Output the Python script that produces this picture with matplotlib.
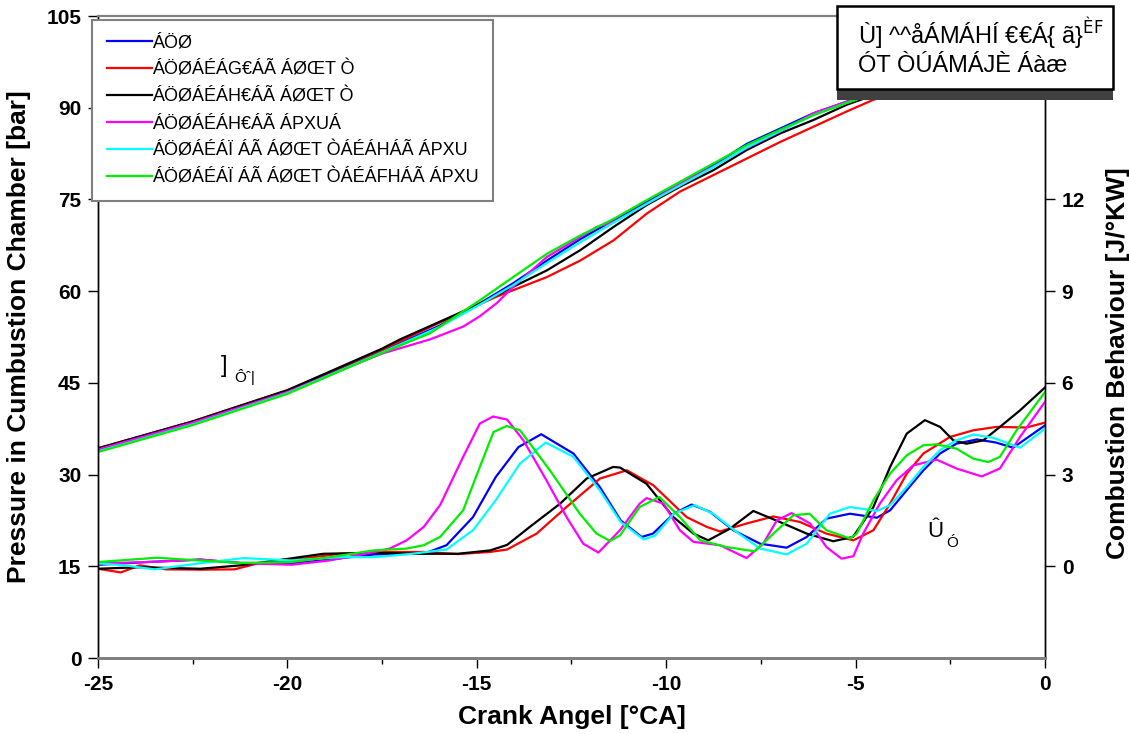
import matplotlib
matplotlib.use("Agg")
import matplotlib.pyplot as plt
from matplotlib.patches import Rectangle
from matplotlib.ticker import MultipleLocator

plt.rcParams['font.family'] = ['Liberation Sans', 'DejaVu Sans']
plt.rcParams['axes.unicode_minus'] = False

# series labels and colours
labels = ["ÁÖØ",
          "ÁÖØÁÉÁG€ÁÃ ÁØŒT Ò",
          "ÁÖØÁÉÁH€ÁÃ ÁØŒT Ò",
          "ÁÖØÁÉÁH€ÁÃ ÁPXUÁ",
          "ÁÖØÁÉÁÏ ÁÃ ÁØŒT ÒÁÉÁHÁÃ ÁPXU",
          "ÁÖØÁÉÁÏ ÁÃ ÁØŒT ÒÁÉÁFHÁÃ ÁPXU"]
colors = ['#0000ff', '#ff0000', '#000000', '#ff00ff', '#00ffff', '#00ee00']

# cylinder pressure [bar] vs crank angle
p_blue_x = [-25, -22.5, -20, -17.5, -16, -14.92, -14.04, -13.15, -12.27, -11.39, -10.51, -9.63, -8.75, -7.87, -6.99, -6.11, -5.23, -4, -2, 0]
p_blue_y = [34.0, 38.4, 43.5, 50.2, 54.3, 58.0, 61.3, 65.0, 68.5, 71.6, 74.6, 77.6, 80.6, 84.1, 86.6, 89.1, 91.0, 93.5, 96.8, 99.0]
p_red_x = [-25, -22.5, -20, -17.5, -16, -14.48, -13.15, -12.27, -11.39, -10.51, -9.63, -8.75, -7.87, -6.99, -6.11, -5.23, -4.53, -3, -1.5, 0]
p_red_y = [34.3, 38.7, 43.8, 50.4, 54.8, 59.1, 62.3, 65.0, 68.3, 72.7, 76.3, 79.0, 81.7, 84.4, 86.9, 89.4, 91.3, 94.0, 96.0, 97.5]
p_black_x = [-25, -22.5, -20, -17.5, -17.03, -15.18, -14.04, -13.15, -12.27, -11.39, -10.51, -9.63, -8.75, -7.87, -6.99, -6.11, -5.23, -4, -2, 0]
p_black_y = [34.3, 38.7, 43.8, 50.6, 52.1, 57.2, 60.7, 63.4, 66.7, 70.5, 74.1, 77.1, 79.8, 83.1, 85.8, 88.0, 90.5, 93.2, 96.5, 98.5]
p_mag_x = [-25, -22.5, -20, -17.5, -16.24, -15.36, -14.92, -14.48, -14.04, -13.15, -12.71, -11.83, -11.39, -10.51, -9.63, -8.75, -7.87, -6.99, -6.11, -5.23, -4, -2, 0]
p_mag_y = [34.1, 38.5, 43.5, 49.8, 52.1, 54.2, 55.9, 58.0, 60.7, 65.6, 67.2, 70.5, 71.3, 74.3, 77.6, 80.4, 83.4, 86.1, 89.1, 91.0, 93.5, 96.8, 99.0]
p_cyan_x = [-25, -22.5, -20, -17.5, -16, -14.92, -14.04, -13.15, -12.27, -11.39, -10.51, -9.63, -8.75, -7.87, -6.99, -6.11, -5.23, -4, -2, 0]
p_cyan_y = [33.8, 38.2, 43.3, 50.0, 54.1, 57.8, 61.0, 64.6, 68.0, 71.2, 74.3, 77.3, 80.3, 83.5, 86.2, 88.8, 90.8, 93.4, 96.7, 99.0]
p_green_x = [-25, -22.5, -20, -17.5, -16.24, -14.92, -14.04, -13.15, -12.27, -11.39, -10.51, -9.63, -8.75, -7.87, -6.99, -6.11, -5.23, -4, -2, 0]
p_green_y = [33.7, 38.1, 43.2, 49.9, 53.1, 58.5, 62.3, 66.1, 69.1, 71.8, 74.9, 77.9, 80.9, 83.9, 86.4, 88.8, 90.8, 93.5, 96.8, 99.0]

# combustion behaviour [J/deg] vs crank angle
q_blue_x = [-25, -23.7, -22.3, -21.25, -19.9, -18.9, -17.7, -16.4, -15.8, -15.1, -14.5, -13.9, -13.3, -12.45, -11.75, -11.2, -10.65, -10.35, -9.8, -9.33, -8.84, -8.23, -7.52, -6.82, -6.29, -5.77, -5.15, -4.44, -4.09, -3.65, -3.21, -2.77, -2.34, -1.8, -1.3, -0.84, 0]
q_blue_y = [0.05, 0.14, 0.22, 0.11, 0.09, 0.22, 0.39, 0.41, 0.69, 1.61, 2.92, 3.9, 4.32, 3.69, 2.59, 1.5, 0.96, 1.07, 1.72, 2.02, 1.78, 1.18, 0.74, 0.61, 0.96, 1.56, 1.72, 1.59, 1.83, 2.49, 3.14, 3.69, 4.01, 4.15, 4.05, 3.88, 4.61]
q_red_x = [-25, -24.4, -23.9, -23.2, -22.3, -21.4, -20.8, -19.6, -18.6, -17.3, -16.4, -15.5, -14.65, -14.2, -13.42, -12.63, -11.75, -11.04, -10.34, -9.46, -8.93, -8.58, -7.88, -7.17, -6.47, -5.77, -5.06, -4.53, -4.09, -3.65, -3.21, -2.51, -1.89, -1.28, -0.49, 0]
q_red_y = [-0.08, -0.2, 0.03, -0.1, -0.11, -0.1, 0.09, 0.25, 0.41, 0.47, 0.47, 0.4, 0.47, 0.55, 1.07, 1.94, 2.87, 3.14, 2.65, 1.61, 1.29, 1.14, 1.4, 1.63, 1.45, 1.07, 0.85, 1.18, 2.05, 3.03, 3.69, 4.23, 4.45, 4.56, 4.54, 4.7]
q_black_x = [-25, -23.9, -22.3, -21.25, -20.3, -19.05, -18.2, -17.3, -16.4, -15.5, -14.65, -14.2, -13.6, -12.8, -12.1, -11.4, -11.22, -10.52, -9.81, -9.28, -8.89, -8.32, -7.7, -7.0, -6.29, -5.59, -5.07, -4.53, -4.09, -3.65, -3.17, -2.77, -2.42, -2.07, -1.63, -1.19, -0.66, 0]
q_black_y = [-0.08, -0.03, -0.08, 0.03, 0.19, 0.41, 0.43, 0.43, 0.41, 0.41, 0.52, 0.7, 1.29, 2.05, 2.87, 3.25, 3.23, 2.7, 1.61, 1.07, 0.85, 1.23, 1.81, 1.45, 1.07, 0.82, 0.96, 1.94, 3.25, 4.34, 4.78, 4.56, 4.12, 4.01, 4.12, 4.56, 5.1, 5.85]
q_mag_x = [-25, -23.5, -22.3, -21.25, -19.9, -18.9, -17.7, -17.3, -16.85, -16.4, -15.97, -15.36, -14.92, -14.57, -14.2, -13.77, -13.16, -12.63, -12.19, -11.79, -11.22, -10.7, -10.52, -10.07, -9.64, -9.28, -8.58, -7.88, -7.44, -7.08, -6.69, -6.2, -5.77, -5.37, -5.06, -4.8, -4.36, -3.92, -3.48, -2.86, -2.34, -1.67, -1.19, -0.66, 0]
q_mag_y = [0.09, 0.15, 0.22, 0.11, 0.05, 0.19, 0.47, 0.58, 0.85, 1.29, 2.0, 3.58, 4.67, 4.9, 4.8, 4.12, 2.81, 1.61, 0.74, 0.45, 1.18, 2.05, 2.23, 2.05, 1.18, 0.8, 0.69, 0.27, 0.74, 1.5, 1.74, 1.4, 0.63, 0.25, 0.33, 1.07, 2.05, 2.81, 3.3, 3.49, 3.2, 2.94, 3.2, 4.23, 5.38]
q_cyan_x = [-25, -24.3, -23.5, -22.3, -21.16, -19.9, -18.6, -17.7, -16.7, -15.8, -15.1, -14.5, -13.86, -13.18, -12.45, -11.75, -11.2, -10.6, -10.3, -9.8, -9.25, -8.76, -8.14, -7.52, -6.82, -6.29, -5.68, -5.15, -4.44, -4.09, -3.65, -3.21, -2.77, -2.34, -1.89, -1.36, -0.66, 0]
q_cyan_y = [0.1, 0.03, -0.1, 0.1, 0.27, 0.19, 0.3, 0.3, 0.41, 0.55, 1.18, 2.16, 3.36, 4.05, 3.58, 2.48, 1.45, 0.88, 1.0, 1.72, 2.0, 1.72, 1.12, 0.58, 0.39, 0.74, 1.72, 1.94, 1.81, 2.0, 2.59, 3.25, 3.8, 4.12, 4.31, 4.2, 3.88, 4.5]
q_green_x = [-25, -23.45, -22.3, -21.25, -19.9, -18.87, -17.73, -16.85, -16.4, -15.97, -15.36, -14.92, -14.56, -14.21, -13.86, -13.07, -12.28, -11.84, -11.48, -11.22, -10.7, -10.18, -9.64, -9.1, -8.41, -7.66, -7.17, -6.64, -6.22, -5.77, -5.15, -4.97, -4.53, -4.09, -3.65, -3.21, -2.86, -2.34, -1.89, -1.5, -1.19, -0.75, 0]
q_green_y = [0.14, 0.28, 0.19, 0.11, 0.14, 0.3, 0.52, 0.58, 0.69, 0.96, 1.83, 3.25, 4.39, 4.59, 4.45, 3.14, 1.72, 1.07, 0.83, 1.01, 1.94, 2.27, 1.61, 0.85, 0.63, 0.49, 1.07, 1.67, 1.72, 1.18, 0.91, 1.07, 2.16, 3.03, 3.63, 3.96, 3.99, 3.85, 3.52, 3.41, 3.58, 4.45, 5.7]

pressure = [(p_blue_x, p_blue_y), (p_red_x, p_red_y), (p_black_x, p_black_y),
            (p_mag_x, p_mag_y), (p_cyan_x, p_cyan_y), (p_green_x, p_green_y)]
heat = [(q_blue_x, q_blue_y), (q_red_x, q_red_y), (q_black_x, q_black_y),
        (q_mag_x, q_mag_y), (q_cyan_x, q_cyan_y), (q_green_x, q_green_y)]

fig = plt.figure(figsize=(11.29, 7.34), dpi=100)
ax = fig.add_axes([0.0868, 0.1035, 0.8388, 0.8747])
ax2 = ax.twinx()

handles = []
for (px, py), (qx, qy), c, lab in zip(pressure, heat, colors, labels):
    ax.plot(px, py, color=c, lw=1.6)
    h, = ax2.plot(qx, qy, color=c, lw=1.6, label=lab)
    handles.append(h)

ax.set_xlim(-25, 0)
ax.set_ylim(0, 105)
ax2.set_ylim(-3, 18)
ax.set_yticks(range(0, 106, 15))
ax2.set_yticks([0, 3, 6, 9, 12])
ax.xaxis.set_major_locator(MultipleLocator(5))
ax.xaxis.set_minor_locator(MultipleLocator(2.5))

for a in (ax, ax2):
    a.tick_params(axis='both', which='major', direction='out', length=7,
                  width=1, labelsize=15, pad=5)
    a.tick_params(axis='x', which='minor', direction='out', length=4, width=1)
    for t in a.get_xticklabels() + a.get_yticklabels():
        t.set_fontweight('bold')
    a.spines['top'].set_color('#808080')
    a.spines['top'].set_linewidth(1.5)
    a.spines['bottom'].set_color('#808080')
    a.spines['bottom'].set_linewidth(2)
    a.spines['left'].set_linewidth(1)
    a.spines['right'].set_linewidth(1)

ax.set_xlabel('Crank Angel [°CA]', fontsize=19, fontweight='bold', labelpad=8)
ax.set_ylabel('Pressure in Cumbustion Chamber [bar]', fontsize=19,
              fontweight='bold', labelpad=11)
ax2.set_ylabel('Combustion Behaviour [J/°KW]', fontsize=19, fontweight='bold')
ax2.yaxis.set_label_coords(1.064, 0.46)

# curve annotations
ax.text(-21.75, 46.8, ']', fontsize=17)
ax.text(-21.4, 45.2, 'Ôˆ|', fontsize=11)
ax.text(-3.1, 19.8, 'Û', fontsize=16)
ax.text(-2.6, 18.2, 'Ó', fontsize=11)

leg = ax2.legend(handles=handles, loc='upper left',
                 bbox_to_anchor=(92 / 1129, 1 - 20 / 734),
                 bbox_transform=fig.transFigure,
                 prop={'size': 13},
                 handlelength=2.5, handletextpad=0.0, labelspacing=0.55,
                 borderpad=0.82, borderaxespad=0, frameon=True,
                 fancybox=False, framealpha=1)
leg.get_frame().set_edgecolor('#808080')
leg.get_frame().set_linewidth(1.5)

# operating point box with drop shadow
W, H = 1129.0, 734.0
bx0, bx1, by0, by1 = 837, 1113, 6, 89
fig.add_artist(Rectangle((bx0 / W, 1 - (by1 + 11) / H), (bx1 - bx0) / W,
                         (by1 - by0) / H, transform=fig.transFigure,
                         facecolor='#404040', edgecolor='none', zorder=5))
fig.add_artist(Rectangle((bx0 / W, 1 - by1 / H), (bx1 - bx0) / W,
                         (by1 - by0) / H, transform=fig.transFigure,
                         facecolor='white', edgecolor='black', lw=1.8,
                         zorder=6))
fig.text(858 / W, 1 - 33 / H, 'Ù] ^^åÁMÁHÍ €€Á{ ã}$^{\\mathrm{ÈF}}$',
         fontsize=17, va='center', zorder=7)
fig.text(858 / W, 1 - 66 / H, 'ÓT ÒÚÁMÁJÈ Áàæ', fontsize=17,
         va='center', zorder=7)

fig.savefig('out.png', dpi=100)
